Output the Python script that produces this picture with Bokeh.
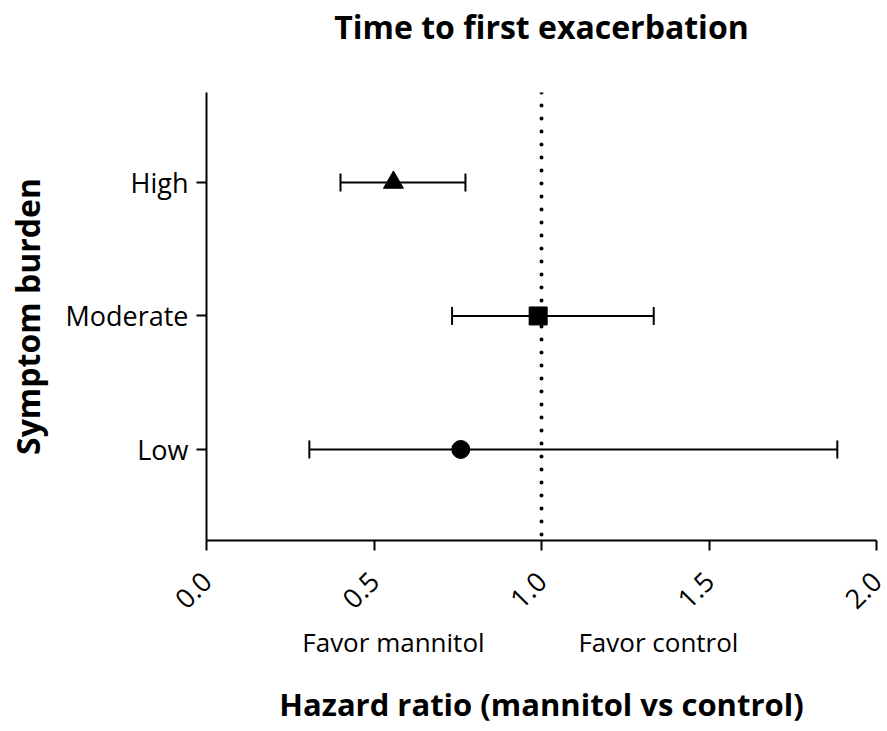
import math
from bokeh.plotting import figure
from bokeh.models import (ColumnDataSource, Whisker, TeeHead, Span,
                          FixedTicker, LinearAxis)
from bokeh.embed import file_html
from bokeh.resources import INLINE

# ---- data ----
title_text = "Time to first exacerbation"
categories = ["Low", "Moderate", "High"]
cat_pos = [1, 2, 3]
hazard_ratio = [0.759, 0.99, 0.558]
ci_lower = [0.307, 0.733, 0.400]
ci_upper = [1.883, 1.335, 0.773]
markers = ["circle", "square", "triangle"]
marker_sizes = [18, 18, 20]
x_ticks = [0.0, 0.5, 1.0, 1.5, 2.0]
x_tick_labels = ["0.0", "0.5", "1.0", "1.5", "2.0"]
favor_labels = ["Favor mannitol", "Favor control"]
favor_x = [0.558, 1.349]

FONT = "Open Sans"

p = figure(width=887, height=731, output_backend="svg", toolbar_location=None,
           x_range=(0, 2), y_range=(0.318, 3.674),
           min_border_left=206, min_border_right=11,
           min_border_top=92, min_border_bottom=191)

p.outline_line_color = None
p.grid.visible = False
p.background_fill_color = "white"

src = ColumnDataSource(dict(y=cat_pos, hr=hazard_ratio, lo=ci_lower, hi=ci_upper,
                            m=markers, s=marker_sizes))

# reference line
p.add_layout(Span(location=1.0, dimension="height", line_color="black",
                  line_width=4, line_dash="0 13", line_cap="round"))

w = Whisker(base="y", lower="lo", upper="hi", dimension="width", source=src,
            line_width=2, line_color="black",
            lower_head=TeeHead(size=18, line_width=2, line_color="black"),
            upper_head=TeeHead(size=18, line_width=2, line_color="black"))
p.add_layout(w)

p.scatter(x="hr", y="y", marker="m", size="s", source=src,
          fill_color="black", line_color="black")

# axes
p.xaxis.ticker = FixedTicker(ticks=x_ticks)
p.xaxis.major_label_overrides = {t: l for t, l in zip(x_ticks, x_tick_labels)}
p.xaxis.major_label_orientation = math.pi / 4

p.yaxis.ticker = FixedTicker(ticks=cat_pos)
p.yaxis.major_label_overrides = {c: l for c, l in zip(cat_pos, categories)}
p.yaxis.axis_label = "Symptom burden"
p.yaxis.axis_label_standoff = 13

for ax in (p.xaxis, p.yaxis):
    ax.axis_line_width = 2
    ax.axis_line_color = "black"
    ax.major_tick_line_width = 2
    ax.major_tick_line_color = "black"
    ax.major_tick_out = 10
    ax.major_tick_in = 0
    ax.minor_tick_line_color = None
    ax.major_label_text_font = FONT
    ax.major_label_text_font_size = "27px"
    ax.major_label_text_color = "black"
    ax.axis_label_text_font = FONT
    ax.axis_label_text_font_size = "32px"
    ax.axis_label_text_font_style = "bold"
    ax.axis_label_text_color = "black"
p.xaxis.major_label_standoff = 26
p.yaxis.major_label_standoff = 8

# second bottom axis carrying the "Favor ..." texts and the x title
fav = LinearAxis(ticker=FixedTicker(ticks=favor_x),
                 major_label_overrides={x: t for x, t in zip(favor_x, favor_labels)},
                 axis_line_color=None, major_tick_line_color=None,
                 minor_tick_line_color=None, major_tick_out=0, major_tick_in=0,
                 major_label_standoff=3,
                 major_label_text_font=FONT, major_label_text_font_size="26px",
                 major_label_text_color="black",
                 axis_label="Hazard ratio (mannitol vs control)",
                 axis_label_standoff=20,
                 axis_label_text_font=FONT, axis_label_text_font_size="31px",
                 axis_label_text_font_style="bold", axis_label_text_color="black")
p.add_layout(fav, "below")

# title as a label of an invisible top axis, centred over x = 1.0
top = LinearAxis(ticker=FixedTicker(ticks=[1.0]),
                 major_label_overrides={1.0: title_text},
                 axis_line_color=None, major_tick_line_color=None,
                 minor_tick_line_color=None, major_tick_out=0, major_tick_in=0,
                 major_label_standoff=45,
                 major_label_text_font=FONT, major_label_text_font_size="32px",
                 major_label_text_font_style="bold",
                 major_label_text_color="black")
p.add_layout(top, "above")

open("out.html", "w").write(file_html(p, INLINE))
